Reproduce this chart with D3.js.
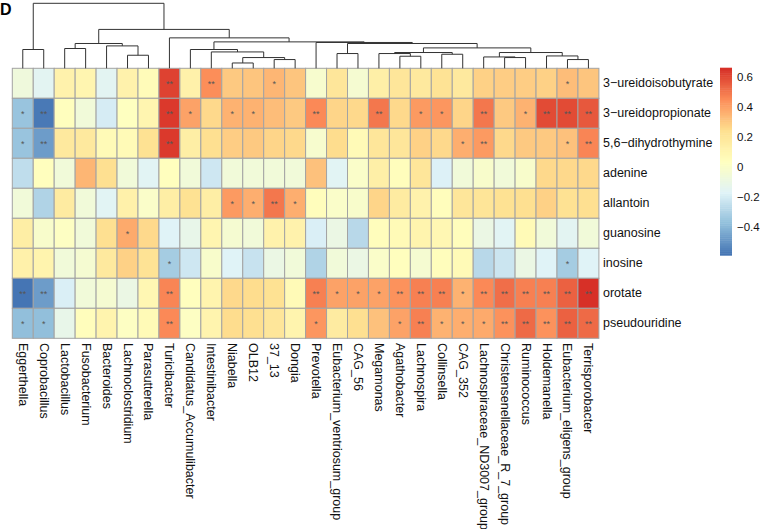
<!DOCTYPE html>
<html><head><meta charset="utf-8">
<script src="https://cdn.jsdelivr.net/npm/d3@7"></script>
<style>body{margin:0;background:#fff} text{font-family:"Liberation Sans",Arial,sans-serif}</style>
</head><body><svg id="c" width="762" height="529"></svg>
<script>
const columns = ["Eggerthella","Coprobacillus","Lactobacillus","Fusobacterium","Bacteroides","Lachnoclostridium","Parasutterella","Turicibacter","Candidatus_Accumulibacter","Intestinibacter","Niabella","OLB12","37_13","Dongia","Prevotella","Eubacterium_ventriosum_group","CAG_56","Megamonas","Agathobacter","Lachnospira","Collinsella","CAG_352","Lachnospiraceae_ND3007_group","Christensenellaceae_R_7_group","Ruminococcus","Holdemanella","Eubacterium_eligens_group","Terrisporobacter"];
const rows = ["3\u2212ureidoisobutyrate","3\u2212ureidopropionate","5,6\u2212dihydrothymine","adenine","allantoin","guanosine","inosine","orotate","pseudouridine"];

const ureidoisobutyrate = [-0.07,-0.15,0.12,0.10,-0.15,0.12,0.06,0.62,0.13,0.45,0.30,0.31,0.35,0.31,-0.02,0.20,-0.03,0.14,0.20,0.18,0.22,0.18,0.28,0.29,0.29,0.28,0.33,0.31];
const ureidopropionate = [-0.36,-0.58,0.04,-0.06,-0.20,0.03,0.10,0.64,0.40,0.26,0.36,0.36,0.33,0.30,0.46,0.27,0.26,0.50,0.26,0.42,0.43,0.27,0.50,0.30,0.36,0.60,0.60,0.57];
const dihydrothymine = [-0.36,-0.48,0.18,0.18,0.07,0.07,0.23,0.64,0.15,0.24,0.29,0.30,0.27,0.26,-0.02,0.25,0.07,0.20,0.20,0.28,0.26,0.37,0.42,0.26,0.30,0.30,0.32,0.47];
const adenine = [-0.26,0.04,-0.06,0.35,0.24,-0.06,-0.16,0.04,-0.06,-0.22,-0.06,-0.06,-0.06,-0.06,0.32,-0.16,0.00,0.14,0.05,0.20,-0.18,-0.06,-0.01,-0.06,-0.01,0.26,0.26,0.26];
const allantoin = [-0.06,-0.30,0.17,-0.06,-0.16,0.13,0.00,0.15,0.23,0.15,0.42,0.37,0.50,0.37,0.05,0.00,-0.01,0.27,0.17,0.12,0.05,0.20,0.21,0.23,0.24,0.28,0.23,0.24];
const guanosine = [0.15,-0.01,0.02,-0.06,0.24,0.38,0.26,-0.17,-0.12,0.10,-0.03,-0.06,0.12,0.12,-0.19,-0.10,-0.28,0.05,0.07,0.11,0.09,0.05,-0.10,-0.16,0.07,-0.06,-0.15,-0.06];
const inosine = [0.13,0.11,-0.06,-0.03,0.18,0.28,0.22,-0.33,-0.22,-0.01,-0.17,-0.24,-0.10,-0.06,-0.30,-0.06,-0.10,0.00,0.04,-0.03,0.05,0.07,-0.28,-0.23,-0.10,-0.17,-0.33,-0.17];
const orotate = [-0.59,-0.48,-0.19,-0.06,-0.03,-0.10,0.09,0.47,0.04,0.11,0.26,0.25,0.23,0.07,0.48,0.40,0.40,0.40,0.44,0.48,0.48,0.36,0.46,0.52,0.48,0.48,0.55,0.66];
const pseudouridine = [-0.38,-0.38,-0.12,0.05,0.11,0.02,0.07,0.46,0.02,0.11,0.25,0.24,0.20,0.11,0.43,0.17,0.24,0.32,0.40,0.48,0.36,0.37,0.38,0.44,0.53,0.44,0.55,0.53];
const values = [ureidoisobutyrate, ureidopropionate, dihydrothymine, adenine, allantoin, guanosine, inosine, orotate, pseudouridine];

// significance marks: [row, column, mark]
const marks = [
 [0,7,"**"],[0,9,"**"],[0,12,"*"],[0,26,"*"],
 [1,0,"*"],[1,1,"**"],[1,7,"**"],[1,8,"*"],[1,10,"*"],[1,11,"*"],[1,14,"**"],[1,17,"**"],[1,19,"*"],[1,20,"*"],[1,22,"**"],[1,24,"*"],[1,25,"**"],[1,26,"**"],[1,27,"**"],
 [2,0,"*"],[2,1,"**"],[2,7,"**"],[2,21,"*"],[2,22,"**"],[2,26,"*"],[2,27,"**"],
 [4,10,"*"],[4,11,"*"],[4,12,"**"],[4,13,"*"],
 [5,5,"*"],
 [6,7,"*"],[6,26,"*"],
 [7,0,"**"],[7,1,"**"],[7,7,"**"],[7,14,"**"],[7,15,"*"],[7,16,"*"],[7,17,"*"],[7,18,"**"],[7,19,"**"],[7,20,"**"],[7,21,"*"],[7,22,"**"],[7,23,"**"],[7,24,"**"],[7,25,"**"],[7,26,"**"],[7,27,"**"],
 [8,0,"*"],[8,1,"*"],[8,7,"**"],[8,14,"*"],[8,18,"*"],[8,19,"**"],[8,20,"*"],[8,21,"*"],[8,22,"*"],[8,23,"**"],[8,24,"**"],[8,25,"**"],[8,26,"**"],[8,27,"**"]
];

// column dendrogram (hclust-style merge: negative = leaf index+1, positive = merge step)
const merges = [
 [-1,-2,18.7],[-3,-4,19.7],[-6,-7,13.0],[-5,3,22.3],[2,4,24.7],
 [-11,-12,5.3],[-13,-14,8.7],[6,7,10.7],[-10,8,16.3],[-9,9,18.7],
 [-16,-17,14.7],[-19,-20,12.0],[-18,12,14.7],[-21,-22,14.0],[13,14,15.7],
 [-24,-25,10.7],[-23,16,11.3],[-27,-28,8.7],[-26,18,12.3],[17,19,15.7],
 [15,20,20.3],[11,21,24.7],[-15,22,25.7],[10,23,26.3],[-8,24,30.3],
 [5,25,38.7],[1,26,64.7]
];

const legendTicks = [-0.4,-0.2,0,0.2,0.4,0.6];
const palette = ["#4575B4","#91BFDB","#E0F3F8","#FFFFBF","#FEE090","#FC8D59","#D73027"];

const svg = d3.select("#c");
const x = d3.scaleBand().domain(columns).range([12.3, 598.9]);
const y = d3.scaleBand().domain(rows).range([68.3, 338.3]);
const all = values.flat();
const vmin = d3.min(all), vmax = d3.max(all);
const color = d3.scaleLinear()
  .domain(palette.map((_, i) => vmin + (vmax - vmin) * i / (palette.length - 1)))
  .range(palette);

// cells
const cells = [];
values.forEach((arr, r) => arr.forEach((v, c) => cells.push({r, c, v})));
svg.append("g").selectAll("rect").data(cells).join("rect")
  .attr("x", d => x(columns[d.c]))
  .attr("y", d => y(rows[d.r]))
  .attr("width", x.bandwidth())
  .attr("height", y.bandwidth())
  .attr("fill", d => color(d.v))
  .attr("stroke", "#A3A3A3")
  .attr("stroke-width", 1);

// marks
svg.append("g").selectAll("text").data(marks).join("text")
  .attr("x", d => x(columns[d[1]]) + x.bandwidth() / 2)
  .attr("y", d => y(rows[d[0]]) + y.bandwidth() / 2 + 3.5)
  .attr("text-anchor", "middle")
  .attr("font-size", 9)
  .attr("fill", "#555")
  .text(d => d[2]);

// row labels
svg.append("g").selectAll("text").data(rows).join("text")
  .attr("x", 603)
  .attr("y", d => y(d) + y.bandwidth() / 2)
  .attr("dominant-baseline", "central")
  .attr("font-size", 12.5)
  .attr("fill", "#111")
  .text(d => d);

// column labels
svg.append("g").selectAll("text").data(columns).join("text")
  .attr("transform", d => `translate(${x(d) + x.bandwidth() / 2},343) rotate(90)`)
  .attr("dominant-baseline", "central")
  .attr("font-size", 12.5)
  .attr("fill", "#111")
  .text(d => d);

// dendrogram
const h = d3.scaleLinear().domain([0, d3.max(merges, m => m[2])]).range([68.3, 3.3]);
const nodeX = [], nodeY = [];
const posOf = id => id < 0
  ? [x(columns[-id - 1]) + x.bandwidth() / 2, h(0)]
  : [nodeX[id - 1], nodeY[id - 1]];
const segs = [];
merges.forEach((m, i) => {
  const a = posOf(m[0]), b = posOf(m[1]);
  const ym = h(m[2]);
  nodeX[i] = (a[0] + b[0]) / 2; nodeY[i] = ym;
  segs.push(`M${a[0]},${a[1]}V${ym}H${b[0]}V${b[1]}`);
});
svg.append("g").selectAll("path").data(segs).join("path")
  .attr("d", d => d).attr("fill", "none").attr("stroke", "#333").attr("stroke-width", 1);

// legend
const ly = d3.scaleLinear().domain([0, 0.6]).range([166.7, 76.7]);
const steps = d3.range(100).map(i => vmin + (vmax - vmin) * i / 99);
const stepH = (ly(vmin) - ly(vmax)) / 100;
svg.append("g").selectAll("rect").data(steps).join("rect")
  .attr("x", 720).attr("width", 12)
  .attr("y", (d, i) => ly(vmin) - (i + 1) * stepH)
  .attr("height", stepH + 0.5)
  .attr("fill", d => color(d));
svg.append("g").selectAll("text").data(legendTicks).join("text")
  .attr("x", 737).attr("y", d => ly(d))
  .attr("dominant-baseline", "central")
  .attr("font-size", 11.5).attr("fill", "#111")
  .text(d => d === 0 ? "0" : d3.format(".1f")(d).replace("-", "\u2212"));

svg.append("text").attr("x", 0).attr("y", 15).attr("font-size", 16).attr("font-weight", "bold").text("D");
</script></body></html>
